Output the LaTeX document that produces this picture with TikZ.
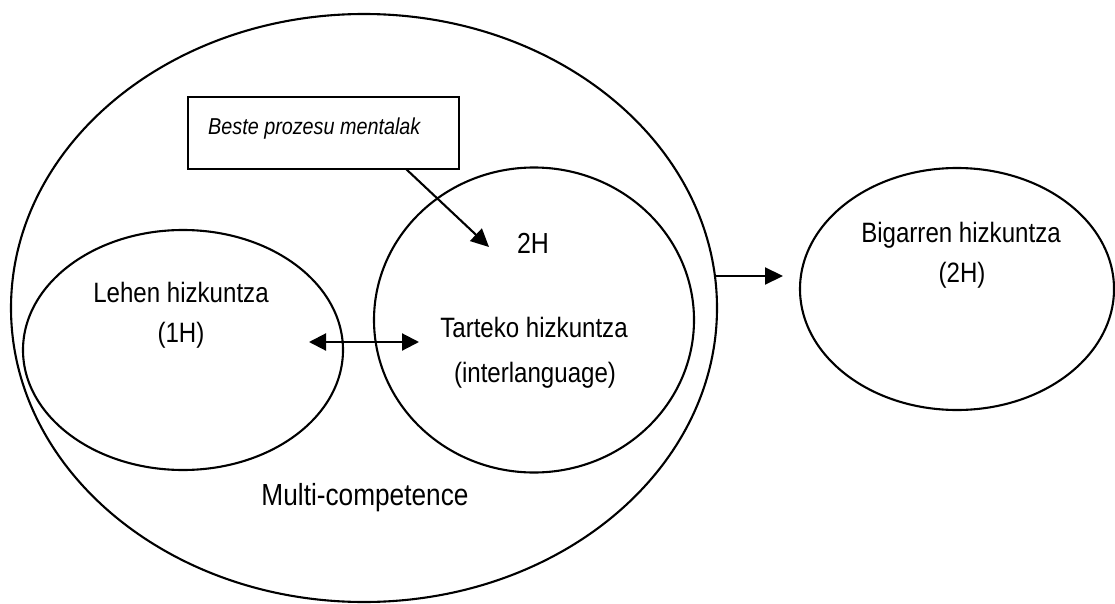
\documentclass[tikz,border=0pt]{standalone}
\usepackage{fontspec}
\setmainfont{Liberation Sans}[FakeStretch=0.86]
\usetikzlibrary{shapes.geometric,arrows.meta}
\begin{document}
\begin{tikzpicture}[x=1pt,y=-1pt,
  ring/.style={draw,line width=2.1pt,ellipse,inner sep=0pt},
  lbl/.style={anchor=base,inner sep=0pt,font=\fontsize{28}{30}\selectfont},
  conn/.style={line width=2.1pt,-{Triangle[length=18pt,width=17pt]}},
  dconn/.style={line width=2.1pt,{Triangle[length=17pt,width=17pt]}-{Triangle[length=17pt,width=17pt]}}]
\useasboundingbox (0,0) rectangle (1115,604);
% ellipses
\node[ring,minimum width=706pt,minimum height=588pt] (big) at (364,308) {};
\node[ring,minimum width=320pt,minimum height=240pt] (l1) at (183,350) {};
\node[ring,minimum width=320pt,minimum height=305pt] (inter) at (534,320) {};
\node[ring,minimum width=314pt,minimum height=242pt] (l2) at (957,289) {};
% box
\node[draw,line width=2.1pt,minimum width=271pt,minimum height=72pt,inner sep=0pt] (box) at (323.5,133) {};
\node[anchor=base west,inner sep=0pt,font=\fontsize{23}{26}\selectfont\itshape] (boxtxt) at (208,135) {Beste prozesu mentalak};
% labels
\node[lbl] (t1a) at (181,302) {Lehen hizkuntza};
\node[lbl] (t1b) at (181,342) {(1H)};
\node[lbl,font=\fontsize{29}{30}\selectfont] (t2h) at (533,253) {2H};
\node[lbl] (t2a) at (534,337) {Tarteko hizkuntza};
\node[lbl] (t2b) at (535,382) {(interlanguage)};
\node[lbl] (t3a) at (961,242) {Bigarren hizkuntza};
\node[lbl] (t3b) at (962,282) {(2H)};
\node[lbl,font=\fontsize{30.5}{32}\selectfont] (mc) at (365,505) {Multi-competence};
% connector end points
\coordinate (bs) at (406,169);
\coordinate (be) at (489,247);
\coordinate (da) at (309,342);
\coordinate (db) at (419,342);
\coordinate (ra) at (716,276);
\coordinate (rb) at (783,276);
\draw[conn] (bs) -- (be);
\draw[dconn] (da) -- (db);
\draw[conn] (ra) -- (rb);
\end{tikzpicture}
\end{document}
